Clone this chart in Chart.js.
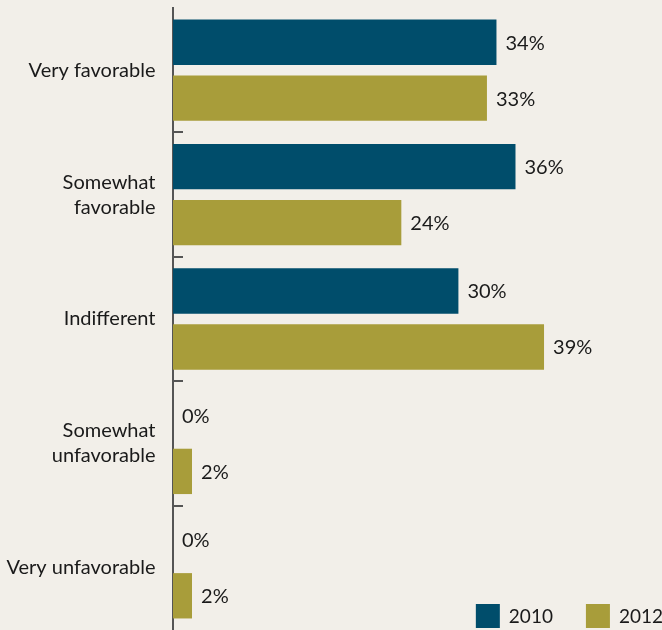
<!DOCTYPE html>
<html>
<head>
<meta charset="utf-8">
<script src="https://cdn.jsdelivr.net/npm/chart.js@4.4.1/dist/chart.umd.min.js"></script>
<style>
  html, body { margin: 0; padding: 0; background: #f2efe9; }
  #wrap { width: 662px; height: 630px; position: relative; }
</style>
</head>
<body>
<div id="wrap"><canvas id="c" width="662" height="630"></canvas></div>
<script>
const categories = [
  'Very favorable',
  ['Somewhat', 'favorable'],
  'Indifferent',
  ['Somewhat', 'unfavorable'],
  'Very unfavorable'
];
const seriesNames = ['2010', '2012'];
const values2010 = [34, 36, 30, 0, 0];
const values2012 = [33, 24, 39, 2, 2];
const seriesColors = ['#004d6b', '#a89d3a'];

const FONT = 'Lato, "Open Sans", sans-serif';
const TEXT = '#1a1a1a';

const valueLabels = {
  id: 'valueLabels',
  afterDatasetsDraw(chart) {
    const ctx = chart.ctx;
    ctx.save();
    ctx.font = '20px ' + FONT;
    ctx.fillStyle = TEXT;
    ctx.textAlign = 'left';
    ctx.textBaseline = 'middle';
    chart.data.datasets.forEach((ds, di) => {
      const meta = chart.getDatasetMeta(di);
      meta.data.forEach((el, i) => {
        ctx.fillText(ds.data[i] + '%', el.x + 9, el.y + 1);
      });
    });
    ctx.restore();
  }
};

const customLegend = {
  id: 'customLegend',
  afterDraw(chart) {
    const ctx = chart.ctx;
    ctx.save();
    ctx.font = '19px ' + FONT;
    ctx.textBaseline = 'middle';
    ctx.textAlign = 'left';
    const box = 24, gapText = 9, gapItem = 33;
    const items = chart.data.datasets.map(ds => ({
      label: ds.label, color: ds.backgroundColor, w: ctx.measureText(ds.label).width
    }));
    let total = 0;
    items.forEach((it, i) => { total += box + gapText + it.w + (i ? gapItem : 0); });
    let x = chart.width - total + 1;
    const top = chart.height - 26;
    items.forEach(it => {
      ctx.fillStyle = it.color;
      ctx.fillRect(x, top, box, box);
      ctx.fillStyle = TEXT;
      ctx.fillText(it.label, x + box + gapText, top + box / 2 + 1);
      x += box + gapText + it.w + gapItem;
    });
    ctx.restore();
  }
};

new Chart(document.getElementById('c'), {
  type: 'bar',
  data: {
    labels: categories,
    datasets: [
      { label: seriesNames[0], data: values2010, backgroundColor: seriesColors[0] },
      { label: seriesNames[1], data: values2012, backgroundColor: seriesColors[1] }
    ]
  },
  options: {
    indexAxis: 'y',
    responsive: false,
    animation: false,
    layout: { padding: { top: 8, right: 0, bottom: 0, left: 0 } },
    datasets: { bar: { categoryPercentage: 0.9, barPercentage: 0.81 } },
    plugins: {
      legend: { display: false },
      tooltip: { enabled: false }
    },
    scales: {
      x: {
        display: false,
        min: 0,
        max: 51.4
      },
      y: {
        afterFit(scale) {
          scale.width = 173;
          scale.paddingTop = 0;
          scale.paddingBottom = 0;
        },
        border: { display: true, color: '#555', width: 2 },
        grid: {
          drawOnChartArea: false,
          drawTicks: true,
          tickLength: -10,
          lineWidth: 2,
          color: (c) => ((c.index === 0 || c.index === undefined) ? 'rgba(0,0,0,0)' : '#555')
        },
        ticks: {
          padding: 27.5,
          color: TEXT,
          font: { family: FONT, size: 20, lineHeight: 1.25 }
        }
      }
    }
  },
  plugins: [valueLabels, customLegend]
});
</script>
</body>
</html>
